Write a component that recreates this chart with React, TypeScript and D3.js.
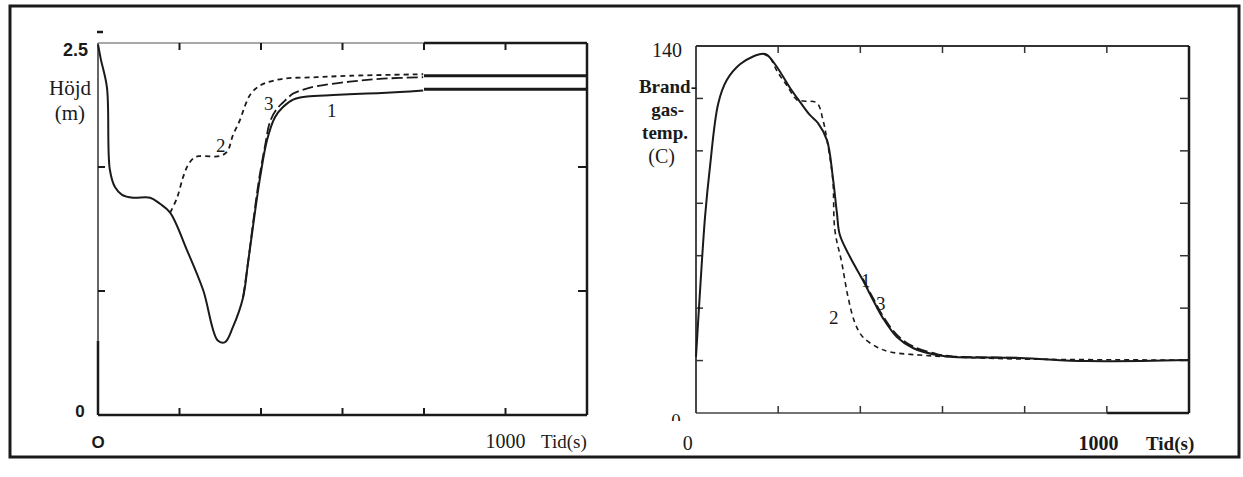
import React from "react";
import * as d3 from "d3";

// vänster diagram: brandgaslagrets höjd (m) mot tid (s)
const hojd1: [number, number][] = [
  [0, 2.49], [7, 2.39], [22, 2.2], [29, 1.65], [42, 1.53], [59, 1.48], [86, 1.46],
  [128, 1.46], [152, 1.42], [177, 1.36], [218, 1.11], [258, 0.84], [294, 0.5],
  [312, 0.49], [331, 0.59], [356, 0.79], [368, 1.02], [380, 1.26], [398, 1.6],
  [415, 1.85], [434, 2.0], [454, 2.07], [479, 2.12], [513, 2.14], [577, 2.15],
  [660, 2.16], [741, 2.17], [798, 2.18],
];
const hojd2: [number, number][] = [
  [177, 1.36], [194, 1.46], [209, 1.6], [221, 1.68], [236, 1.73], [250, 1.74],
  [299, 1.74], [317, 1.77], [331, 1.88], [348, 1.98], [361, 2.08], [373, 2.15],
  [390, 2.2], [410, 2.23], [454, 2.26], [537, 2.27], [618, 2.28], [798, 2.29],
];
const hojd3: [number, number][] = [
  [356, 0.79], [368, 1.02], [380, 1.28], [395, 1.58], [410, 1.81], [422, 1.97],
  [437, 2.05], [454, 2.1], [479, 2.16], [508, 2.19], [537, 2.21], [618, 2.24],
  [699, 2.26], [798, 2.27],
];
const hojdSlutniva = [2.28, 2.19];

// höger diagram: brandgastemperatur (C) mot tid (s)
const temp1: [number, number][] = [
  [0, 21.4], [10, 47], [22, 74.8], [34, 93.9], [54, 118], [75, 127], [107, 133],
  [139, 136], [163, 137], [173, 136.6], [197, 132], [229, 124], [253, 118.7],
  [277, 113.7], [297, 110.6], [319, 104], [333, 90], [343, 76.3], [350, 68],
  [375, 59.5], [406, 50.7], [431, 43.1], [455, 36.2], [489, 29], [528, 24.8],
  [586, 22.1], [625, 21.4], [788, 21], [951, 19.8], [1200, 20.2],
];
const temp2: [number, number][] = [
  [163, 137], [180, 135.5], [197, 130.5], [221, 125], [246, 119.4], [260, 119],
  [294, 118.3], [309, 111.8], [319, 104], [333, 89], [338, 69.8], [355, 57.2],
  [370, 44.3], [387, 34.3], [406, 29], [440, 25.2], [472, 23.3], [545, 22.1],
  [625, 21.4], [788, 20.6], [1200, 20.2],
];
const temp3: [number, number][] = [
  [406, 51.2], [431, 43.8], [455, 37], [489, 29.8], [528, 25.4], [586, 22.5],
  [625, 21.6], [788, 21.1],
];

const tidTicks = [200, 400, 600, 800, 1000];
const hojdTicks = [2.5 / 3, 5 / 3];
const tempTicks = [20, 40, 60, 80, 100, 120];

const ink = "#1a1a1a";
const serif = "'Liberation Serif', 'Times New Roman', serif";
const sans = "'Liberation Sans', Arial, sans-serif";

export default function App() {
  const xL = d3.scaleLinear().domain([0, 1200]).range([98, 587]);
  const yL = d3.scaleLinear().domain([0, 2.5]).range([415, 43]);
  const xR = d3.scaleLinear().domain([0, 1200]).range([696, 1189]);
  const yR = d3.scaleLinear().domain([0, 140]).range([413, 46]);

  const lineL = d3
    .line<[number, number]>()
    .x((d) => xL(d[0]))
    .y((d) => yL(d[1]))
    .curve(d3.curveCatmullRom);
  const lineR = d3
    .line<[number, number]>()
    .x((d) => xR(d[0]))
    .y((d) => yR(d[1]))
    .curve(d3.curveCatmullRom);

  const [l0, l1] = xL.range();
  const [r0, r1] = xR.range();
  const tick = 7;

  return (
    <svg
      width={1243}
      height={477}
      style={{ position: "absolute", left: 0, top: 0, background: "#fff" }}
    >
      <clipPath id="nollklipp">
        <rect x={660} y={400} width={30} height={21} />
      </clipPath>

      {/* yttre ram */}
      <rect x={10} y={6} width={1229} height={451} fill="none" stroke={ink} strokeWidth={3} />

      {/* ---- vänster diagram ---- */}
      <g>
        <line x1={l0} x2={xL(800)} y1={yL(2.5)} y2={yL(2.5)} stroke="#a8a8a8" strokeWidth={2} />
        <line x1={xL(800)} x2={l1} y1={yL(2.5)} y2={yL(2.5)} stroke={ink} strokeWidth={2.5} />
        <line x1={l1} x2={l1} y1={yL(2.5)} y2={yL(0)} stroke={ink} strokeWidth={2.5} />
        <line x1={l0} x2={l1} y1={yL(0)} y2={yL(0)} stroke={ink} strokeWidth={2.5} />
        <line x1={l0} x2={l0} y1={yL(2.5)} y2={yL(0.5)} stroke="#666" strokeWidth={2} />
        <line x1={l0} x2={l0} y1={yL(0.5)} y2={yL(0)} stroke={ink} strokeWidth={2.5} />
        <line x1={97} x2={103} y1={32} y2={32} stroke={ink} strokeWidth={2.5} />

        {tidTicks.map((t) => (
          <g key={"lt" + t} stroke={ink} strokeWidth={2}>
            <line x1={xL(t)} x2={xL(t)} y1={yL(0)} y2={yL(0) - tick} />
            <line x1={xL(t)} x2={xL(t)} y1={yL(2.5)} y2={yL(2.5) + tick} />
          </g>
        ))}
        {hojdTicks.map((v) => (
          <g key={"lh" + v} stroke={ink} strokeWidth={2}>
            <line x1={l0} x2={l0 + tick} y1={yL(v)} y2={yL(v)} />
            <line x1={l1} x2={l1 - tick - 2} y1={yL(v)} y2={yL(v)} />
          </g>
        ))}

        <path d={lineL(hojd3) ?? ""} fill="none" stroke={ink} strokeWidth={1.8} strokeDasharray="11,4" />
        <path d={lineL(hojd2) ?? ""} fill="none" stroke={ink} strokeWidth={1.8} strokeDasharray="5,4" />
        <path d={lineL(hojd1) ?? ""} fill="none" stroke={ink} strokeWidth={2} />
        {hojdSlutniva.map((v) => (
          <line key={"ls" + v} x1={xL(800)} x2={l1} y1={yL(v)} y2={yL(v)} stroke={ink} strokeWidth={3} />
        ))}

        <text x={216} y={152} fontFamily={serif} fontSize={19} fill={ink}>2</text>
        <text x={264} y={110} fontFamily={serif} fontSize={19} fill={ink}>3</text>
        <text x={327} y={117} fontFamily={serif} fontSize={19} fill={ink}>1</text>

        <text x={88} y={56} textAnchor="end" fontFamily={sans} fontWeight="bold" fontSize={18} fill={ink}>2.5</text>
        <text x={91} y={95} textAnchor="end" fontFamily={serif} fontSize={21} fill={ink}>Höjd</text>
        <text x={85} y={120} textAnchor="end" fontFamily={serif} fontSize={21} fill={ink}>(m)</text>
        <text x={80} y={417} textAnchor="middle" fontFamily={sans} fontWeight="bold" fontSize={17} fill={ink}>0</text>
        <text x={xL(0)} y={448} textAnchor="middle" fontFamily={sans} fontWeight="bold" fontSize={17} fill={ink}>O</text>
        <text x={xL(1000)} y={448} textAnchor="middle" fontFamily={serif} fontSize={20} fill={ink}>1000</text>
        <text x={541} y={448} fontFamily={serif} fontSize={19} fill={ink}>Tid(s)</text>
      </g>

      {/* ---- höger diagram ---- */}
      <g>
        <line x1={r0} x2={r1} y1={yR(140)} y2={yR(140)} stroke="#333" strokeWidth={1.8} />
        <line x1={r1} x2={r1} y1={yR(140)} y2={yR(0)} stroke={ink} strokeWidth={2.5} />
        <line x1={r0} x2={xR(1000)} y1={yR(0)} y2={yR(0)} stroke="#444" strokeWidth={1.6} />
        <line x1={xR(1000)} x2={r1} y1={yR(0)} y2={yR(0)} stroke={ink} strokeWidth={2.5} />
        <line x1={r0} x2={r0} y1={yR(140)} y2={yR(0)} stroke="#333" strokeWidth={1.8} />

        {tidTicks.map((t) => (
          <g key={"rt" + t} stroke="#333" strokeWidth={1.5}>
            <line x1={xR(t)} x2={xR(t)} y1={yR(0)} y2={yR(0) - tick} />
            <line x1={xR(t)} x2={xR(t)} y1={yR(140)} y2={yR(140) + tick} />
          </g>
        ))}
        {tempTicks.map((v) => (
          <g key={"rv" + v} stroke="#333" strokeWidth={1.5}>
            <line x1={r0} x2={r0 + tick} y1={yR(v)} y2={yR(v)} />
            <line x1={r1} x2={r1 - tick - 2} y1={yR(v)} y2={yR(v)} />
          </g>
        ))}

        <path d={lineR(temp3) ?? ""} fill="none" stroke={ink} strokeWidth={1.8} strokeDasharray="11,4" />
        <path d={lineR(temp2) ?? ""} fill="none" stroke={ink} strokeWidth={1.6} strokeDasharray="5,4" />
        <path d={lineR(temp1) ?? ""} fill="none" stroke={ink} strokeWidth={2} />

        <text x={861} y={287} fontFamily={serif} fontSize={19} fill={ink}>1</text>
        <text x={876} y={310} fontFamily={serif} fontSize={19} fill={ink}>3</text>
        <text x={829} y={324} fontFamily={serif} fontSize={19} fill={ink}>2</text>

        <text x={682} y={57} textAnchor="end" fontFamily={serif} fontSize={20} fill={ink}>140</text>
        <text x={697} y={93} textAnchor="end" fontFamily={serif} fontWeight="bold" fontSize={19} fill={ink}>Brand-</text>
        <text x={684} y={116} textAnchor="end" fontFamily={serif} fontWeight="bold" fontSize={19} fill={ink}>gas-</text>
        <text x={688} y={139} textAnchor="end" fontFamily={serif} fontWeight="bold" fontSize={19} fill={ink}>temp.</text>
        <text x={675} y={163} textAnchor="end" fontFamily={serif} fontSize={20} fill={ink}>(C)</text>
        <text x={676} y={427} textAnchor="middle" fontFamily={serif} fontSize={19} fill={ink} clipPath="url(#nollklipp)">0</text>
        <text x={xR(-20)} y={450} textAnchor="middle" fontFamily={serif} fontSize={20} fill={ink}>0</text>
        <text x={xR(980)} y={450} textAnchor="middle" fontFamily={serif} fontWeight="bold" fontSize={20} fill={ink}>1000</text>
        <text x={1146} y={450} fontFamily={serif} fontWeight="bold" fontSize={19} fill={ink}>Tid(s)</text>
      </g>
    </svg>
  );
}
